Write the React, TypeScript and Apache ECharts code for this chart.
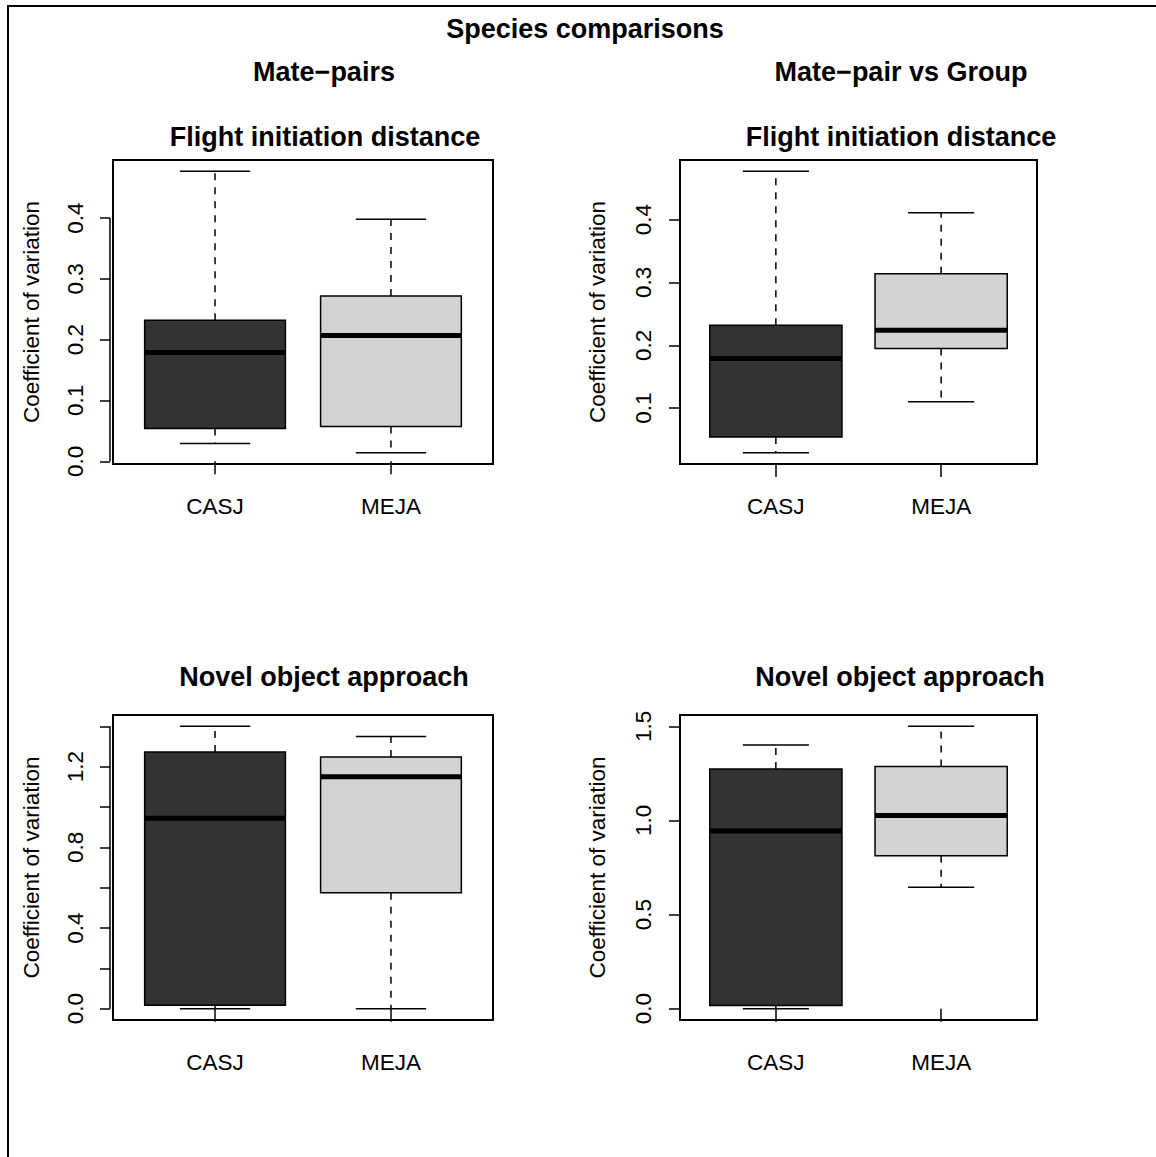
import React, { useEffect, useRef } from "react";
import * as echarts from "echarts";

const FONT = '"Liberation Sans", Arial, Helvetica, sans-serif';

const categories = ["CASJ", "MEJA"];
const boxFill = ["#333333", "#D3D3D3"];

// Five-number summaries per species: [lower whisker, Q1, median, Q3, upper whisker]
const fidMatePairs = [
  [0.029, 0.054, 0.179, 0.232, 0.477],
  [0.014, 0.057, 0.207, 0.272, 0.398],
];
const fidMateVsGroup = [
  [0.029, 0.054, 0.179, 0.232, 0.477],
  [0.110, 0.195, 0.224, 0.314, 0.411],
];
const novelMatePairs = [
  [0.0, 0.017, 0.944, 1.273, 1.400],
  [0.0, 0.575, 1.150, 1.248, 1.349],
];
const novelMateVsGroup = [
  [0.0, 0.017, 0.944, 1.273, 1.400],
  [0.645, 0.812, 1.026, 1.287, 1.500],
];

// Y tick positions and the subset that carries labels
const fidTicksA = [0, 0.1, 0.2, 0.3, 0.4];
const fidTicksB = [0.1, 0.2, 0.3, 0.4];
const novelTicksA = [0, 0.2, 0.4, 0.6, 0.8, 1.0, 1.2, 1.4];
const novelLabelsA = [0, 0.4, 0.8, 1.2];
const novelTicksB = [0, 0.5, 1.0, 1.5];

const mainTitle = "Species comparisons";
const columnTitles = ["Mate\u2212pairs", "Mate\u2212pair vs Group"];
const rowTitles = ["Flight initiation distance", "Novel object approach"];
const yTitle = "Coefficient of variation";

type Panel = {
  grid: { left: number; top: number; width: number; height: number };
  stats: number[][];
  ticks: number[];
  labels: number[];
  axisOffset: number;
  labelMargin: number;
  nameGap: number;
  tickLen: number;
};

const panels: Panel[] = [
  { grid: { left: 113, top: 160, width: 380, height: 304 }, stats: fidMatePairs, ticks: fidTicksA, labels: fidTicksA, axisOffset: 3, labelMargin: 23, nameGap: 67, tickLen: 10 },
  { grid: { left: 680, top: 160, width: 357, height: 304 }, stats: fidMateVsGroup, ticks: fidTicksB, labels: fidTicksB, axisOffset: 0, labelMargin: 25, nameGap: 71, tickLen: 11 },
  { grid: { left: 113, top: 715, width: 380, height: 305 }, stats: novelMatePairs, ticks: novelTicksA, labels: novelLabelsA, axisOffset: 3, labelMargin: 23, nameGap: 67, tickLen: 10 },
  { grid: { left: 680, top: 715, width: 357, height: 305 }, stats: novelMateVsGroup, ticks: novelTicksB, labels: novelTicksB, axisOffset: 0, labelMargin: 25, nameGap: 71, tickLen: 11 },
];

// R-style axis extension: 4% padding on both sides
const extend = (lo: number, hi: number) => {
  const d = (hi - lo) * 0.04;
  return [lo - d, hi + d];
};
const xRange = extend(0.5, 2.5);

function buildOption() {
  const grid: any[] = [];
  const xAxis: any[] = [];
  const yAxis: any[] = [];
  const series: any[] = [];

  panels.forEach((p, i) => {
    grid.push({ ...p.grid, show: true, borderColor: "#000", borderWidth: 2, backgroundColor: "transparent" });
    const all = p.stats.flat();
    const [ymin, ymax] = extend(Math.min(...all), Math.max(...all));

    xAxis.push({
      type: "value",
      gridIndex: i,
      min: xRange[0],
      max: xRange[1],
      axisLine: { show: false },
      splitLine: { show: false },
      axisTick: { show: true, length: 13, customValues: [1, 2], lineStyle: { color: "#000", width: 1.5 } },
      axisLabel: {
        show: true,
        customValues: [1, 2],
        margin: 31,
        color: "#000",
        fontSize: 22.5,
        lineHeight: 22.5,
        fontFamily: FONT,
        formatter: (v: number) => categories[Math.round(v) - 1] ?? "",
      },
    });

    yAxis.push({
      type: "value",
      gridIndex: i,
      min: ymin,
      max: ymax,
      offset: p.axisOffset,
      name: yTitle,
      nameLocation: "middle",
      nameRotate: 90,
      nameGap: p.nameGap,
      nameTextStyle: { color: "#000", fontSize: 22.5, lineHeight: 22.5, fontFamily: FONT },
      axisLine: { show: false },
      splitLine: { show: false },
      axisTick: { show: true, length: p.tickLen, customValues: p.ticks, lineStyle: { color: "#000", width: 1.5 } },
      axisLabel: {
        show: true,
        customValues: p.labels,
        rotate: 90,
        margin: p.labelMargin,
        color: "#000",
        fontSize: 22.5,
        lineHeight: 22.5,
        fontFamily: FONT,
        formatter: (v: number) => v.toFixed(1),
      },
    });

    // Axis line spanning first to last tick, like base graphics
    series.push({
      type: "custom",
      xAxisIndex: i,
      yAxisIndex: i,
      clip: false,
      silent: true,
      data: [[p.ticks[0], p.ticks[p.ticks.length - 1]]],
      renderItem: (_params: any, api: any) => {
        const a = api.coord([xRange[0], api.value(0)]);
        const b = api.coord([xRange[0], api.value(1)]);
        const x = a[0] - p.axisOffset;
        return {
          type: "line",
          shape: { x1: x, y1: a[1], x2: x, y2: b[1] },
          style: { stroke: "#000", lineWidth: 1.5 },
        };
      },
    });

    // Boxes: whiskers, box, median
    series.push({
      type: "custom",
      xAxisIndex: i,
      yAxisIndex: i,
      clip: false,
      silent: true,
      data: p.stats.map((s, k) => [k + 1, ...s]),
      renderItem: (params: any, api: any) => {
        const x = api.value(0);
        const lo = api.coord([x, api.value(1)]);
        const q1 = api.coord([x, api.value(2)]);
        const md = api.coord([x, api.value(3)]);
        const q3 = api.coord([x, api.value(4)]);
        const hi = api.coord([x, api.value(5)]);
        const cx = lo[0];
        const bw = api.size([0.8, 0])[0];
        const cw = api.size([0.4, 0])[0];
        const dashed = { stroke: "#000", lineWidth: 1.5, lineDash: [7, 7] };
        const solid = { stroke: "#000", lineWidth: 1.5 };
        return {
          type: "group",
          children: [
            { type: "line", shape: { x1: cx, y1: q3[1], x2: cx, y2: hi[1] }, style: dashed },
            { type: "line", shape: { x1: cx, y1: q1[1], x2: cx, y2: lo[1] }, style: dashed },
            { type: "line", shape: { x1: cx - cw / 2, y1: hi[1], x2: cx + cw / 2, y2: hi[1] }, style: solid },
            { type: "line", shape: { x1: cx - cw / 2, y1: lo[1], x2: cx + cw / 2, y2: lo[1] }, style: solid },
            {
              type: "rect",
              shape: { x: cx - bw / 2, y: q3[1], width: bw, height: q1[1] - q3[1] },
              style: { fill: boxFill[params.dataIndex], stroke: "#000", lineWidth: 1.5 },
            },
            { type: "line", shape: { x1: cx - bw / 2, y1: md[1], x2: cx + bw / 2, y2: md[1] }, style: { stroke: "#000", lineWidth: 5 } },
          ],
        };
      },
    });
  });

  const bold = (text: string, x: number, y: number, size = 27) => ({
    type: "text",
    x,
    y,
    style: { text, fill: "#000", fontSize: size, fontWeight: "bold", fontFamily: FONT, align: "center", verticalAlign: "middle" },
  });

  const graphic = [
    { type: "rect", shape: { x: 8, y: 6, width: 1170, height: 1170 }, style: { fill: "none", stroke: "#000", lineWidth: 2 } },
    bold(mainTitle, 585, 29),
    bold(columnTitles[0], 324, 72),
    bold(columnTitles[1], 901, 72),
    bold(rowTitles[0], 325, 137),
    bold(rowTitles[0], 901, 137),
    bold(rowTitles[1], 324, 677),
    bold(rowTitles[1], 900, 677),
  ];

  return { animation: false, backgroundColor: "#fff", grid, xAxis, yAxis, series, graphic };
}

export default function App() {
  const ref = useRef<HTMLDivElement>(null);
  useEffect(() => {
    if (!ref.current) return;
    const chart = echarts.init(ref.current, undefined, { renderer: "svg" });
    chart.setOption(buildOption() as any);
    return () => chart.dispose();
  }, []);
  return <div ref={ref} style={{ position: "fixed", left: 0, top: 0, width: 1156, height: 1157, background: "#fff" }} />;
}
